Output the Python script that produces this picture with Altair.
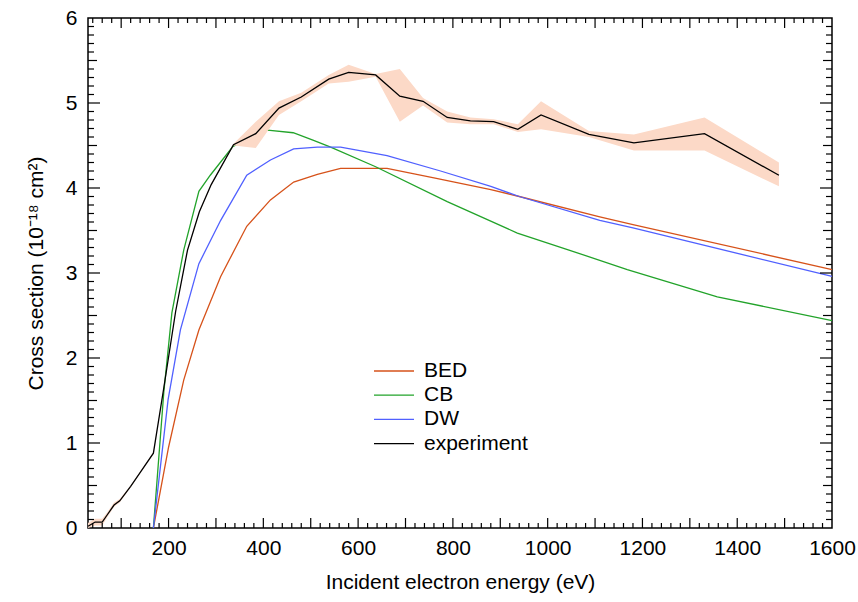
import altair as alt
import pandas as pd
import numpy as np

# ---------------- data ----------------
exp_E = [30, 45, 60, 70, 85, 97, 120, 141, 168, 190, 215, 240, 265, 290, 337, 384, 433,
         480, 538, 580, 637, 688, 737, 788, 837, 886, 937, 986, 1087, 1182, 1331, 1488]
exp_s = [0.02, 0.07, 0.07, 0.15, 0.27, 0.32, 0.49, 0.66, 0.88, 1.65, 2.55, 3.27, 3.72, 4.04,
         4.51, 4.64, 4.94, 5.07, 5.28, 5.36, 5.33, 5.08, 5.02, 4.83, 4.79, 4.78, 4.69, 4.86,
         4.63, 4.53, 4.64, 4.15]
exp_lo = [0.0, 0.03, 0.03, 0.12, 0.25, 0.30, 0.48, 0.65, 0.87, 1.64, 2.54, 3.26, 3.71, 4.03,
          4.50, 4.47, 4.86, 5.02, 5.23, 5.25, 5.31, 4.78, 4.97, 4.77, 4.75, 4.75, 4.66, 4.69,
          4.60, 4.44, 4.44, 4.02]
exp_hi = [0.06, 0.11, 0.11, 0.18, 0.30, 0.34, 0.50, 0.67, 0.89, 1.66, 2.56, 3.28, 3.73, 4.05,
          4.52, 4.78, 5.02, 5.12, 5.33, 5.45, 5.34, 5.40, 5.06, 4.90, 4.83, 4.81, 4.75, 5.02,
          4.67, 4.63, 4.83, 4.30]

bed_E = [168, 200, 232, 264, 310, 365, 415, 464, 514, 563, 661, 760, 880, 940, 1110, 1180, 1600]
bed_s = [0.0, 0.95, 1.74, 2.33, 2.96, 3.55, 3.86, 4.07, 4.16, 4.23, 4.23, 4.12, 3.98, 3.90,
         3.66, 3.57, 3.04]

cb_E = [168, 190, 207, 232, 264, 288, 336, 409, 463, 506, 542, 637, 788, 936, 1045, 1168, 1358, 1600]
cb_s = [0.0, 1.6, 2.53, 3.27, 3.96, 4.15, 4.49, 4.68, 4.65, 4.56, 4.48, 4.25, 3.84, 3.47,
        3.27, 3.04, 2.72, 2.44]

dw_E = [168, 199, 225, 264, 310, 365, 415, 464, 514, 563, 661, 774, 880, 940, 1110, 1180, 1600]
dw_s = [0.0, 1.51, 2.33, 3.11, 3.62, 4.15, 4.33, 4.46, 4.48, 4.48, 4.38, 4.20, 4.02, 3.90,
        3.62, 3.53, 2.96]

series_names = ["BED", "CB", "DW", "experiment"]
series_colors = ["#d6521a", "#22a32a", "#5060ff", "#000000"]

x_labels = [200, 400, 600, 800, 1000, 1200, 1400, 1600]
y_labels = [0, 1, 2, 3, 4, 5, 6]

# ---------------- layout ----------------
W, H = 744, 510
FONT = "Liberation Sans"
FS = 21

theory = pd.concat([
    pd.DataFrame({"E": bed_E, "s": bed_s, "series": "BED"}),
    pd.DataFrame({"E": cb_E, "s": cb_s, "series": "CB"}),
    pd.DataFrame({"E": dw_E, "s": dw_s, "series": "DW"}),
], ignore_index=True)
theory["order"] = theory.groupby("series").cumcount()

exp_df = pd.DataFrame({"E": exp_E, "s": exp_s, "lo": exp_lo, "hi": exp_hi})

xs = alt.Scale(domain=[30, 1600], nice=False, zero=False)
ys = alt.Scale(domain=[0, 6], nice=False, zero=False)
cs = alt.Scale(domain=series_names, range=series_colors)

lines = alt.Chart(theory).mark_line(strokeWidth=1.3).encode(
    x=alt.X("E:Q", scale=xs,
            axis=alt.Axis(values=x_labels, title="Incident electron energy (eV)",
                          labelPadding=9, titlePadding=13, format="d", labelFlush=False)),
    y=alt.Y("s:Q", scale=ys,
            axis=alt.Axis(values=y_labels, title="Cross section (10\u207b\u00b9\u2078 cm\u00b2)",
                          labelPadding=11, titlePadding=19, format="d", labelFlush=False)),
    color=alt.Color("series:N", scale=cs, legend=None),
    detail="series:N",
    order="order:Q",
)

band = alt.Chart(exp_df).mark_area(color="#fcd9c7", opacity=1, interpolate="linear").encode(
    x=alt.X("E:Q", scale=xs), y=alt.Y("lo:Q", scale=ys), y2="hi:Q"
)

exp_line = alt.Chart(exp_df).mark_line(strokeWidth=1.3, color="black").encode(
    x=alt.X("E:Q", scale=xs), y=alt.Y("s:Q", scale=ys)
)

# ---------------- inward ticks ----------------
xt = np.arange(40, 1600, 20)
x_minor = [int(v) for v in xt if v % 100 != 0]
x_major = [int(v) for v in xt if v % 100 == 0]
yt = np.round(np.arange(0.1, 6.0, 0.1), 1)
y_minor = [float(v) for v in yt if abs(v * 2 - round(v * 2)) > 1e-6]
y_half = [float(v) for v in yt if abs(v * 2 - round(v * 2)) < 1e-6 and abs(v - round(v)) > 1e-6]
y_major = [float(v) for v in yt if abs(v - round(v)) < 1e-6]

def xticks(vals, length):
    d = pd.DataFrame({"v": vals})
    b = alt.Chart(d).mark_rule(color="black", strokeWidth=1.2).encode(
        x=alt.X("v:Q", scale=xs), y=alt.value(H), y2=alt.value(H - length))
    t = alt.Chart(d).mark_rule(color="black", strokeWidth=1.2).encode(
        x=alt.X("v:Q", scale=xs), y=alt.value(0), y2=alt.value(length))
    return [b, t]

def yticks(vals, length):
    d = pd.DataFrame({"v": vals})
    l = alt.Chart(d).mark_rule(color="black", strokeWidth=1.2).encode(
        y=alt.Y("v:Q", scale=ys), x=alt.value(0), x2=alt.value(length))
    r = alt.Chart(d).mark_rule(color="black", strokeWidth=1.2).encode(
        y=alt.Y("v:Q", scale=ys), x=alt.value(W), x2=alt.value(W - length))
    return [l, r]

tick_layers = (xticks(x_minor, 5) + xticks(x_major, 10) +
               yticks(y_minor, 6) + yticks(y_half, 9) + yticks(y_major, 12))

# ---------------- legend ----------------
leg_layers = []
for i, (name, col) in enumerate(zip(series_names, series_colors)):
    yy = 353 + i * 24.2
    d = pd.DataFrame({"label": [name]})
    leg_layers.append(alt.Chart(d).mark_rule(color=col, strokeWidth=1.3).encode(
        x=alt.value(286), x2=alt.value(326), y=alt.value(yy)))
    leg_layers.append(alt.Chart(d).mark_text(align="left", baseline="middle", font=FONT,
                                             fontSize=FS, color="black").encode(
        x=alt.value(336), y=alt.value(yy), text="label:N"))

chart = alt.layer(lines, band, exp_line, *tick_layers, *leg_layers).properties(
    width=W, height=H,
    autosize=alt.AutoSizeParams(type="none"),
    padding={"left": 88, "top": 18, "right": 26, "bottom": 74},
).configure_view(
    stroke="black", strokeWidth=1.5
).configure_axis(
    grid=False, domain=False, ticks=False,
    labelFont=FONT, labelFontSize=FS, labelColor="black",
    titleFont=FONT, titleFontSize=FS, titleColor="black", titleFontWeight="normal",
)

chart.save("out.html", embed_options={"renderer": "svg", "actions": False})
